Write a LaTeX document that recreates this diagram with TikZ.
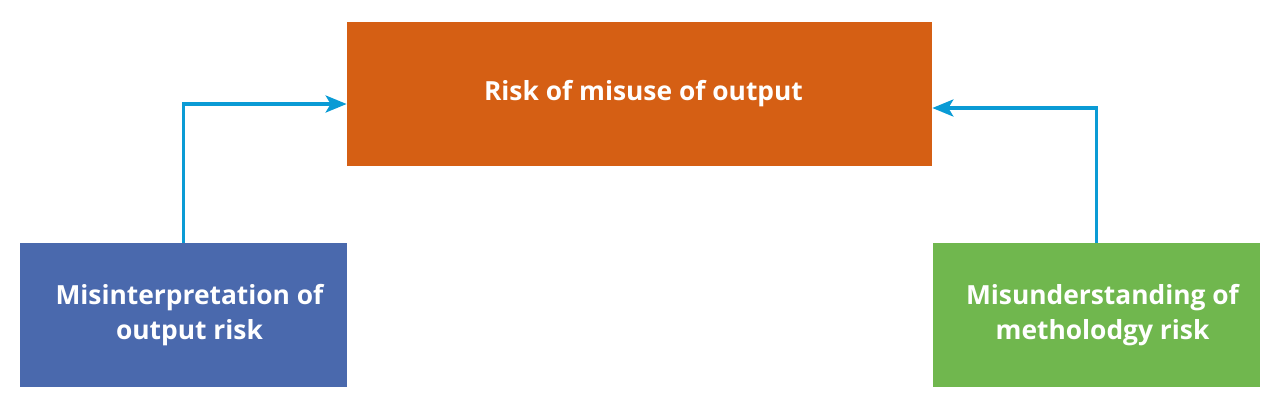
\documentclass[tikz,border=0pt]{standalone}
\usepackage{fontspec}
\setmainfont{Open Sans}
\usepackage{tikz}
\usetikzlibrary{arrows.meta}
\tikzset{>=stealth}
\usepackage{xcolor}
\definecolor{riskcol}{HTML}{D55F14}
\definecolor{interpcol}{HTML}{4A69AD}
\definecolor{methodcol}{HTML}{70B74E}
\definecolor{linkcol}{HTML}{0A9BD5}
\tikzstyle{box}=[minimum width=6.54cm,minimum height=2.88cm,inner sep=0,
                 text=white,align=center,font=\fontsize{15}{20}\selectfont\bfseries]
\tikzstyle{link}=[-{Stealth[length=0.42cm,width=0.34cm,inset=0.1cm]},line width=0.07cm,linkcol]

\begin{document}
\begin{tikzpicture}
  \useasboundingbox (0,0) rectangle (25.66,-8.10);
  
  % top
  \node[box,fill=riskcol,minimum width=11.70cm] (risk) at (12.79,-1.88)
       {\hspace*{0.16cm}Risk of misuse of output};
  
  % bottom
  \node[box,fill=interpcol] (interp) at (3.67,-6.30)
       {\hspace*{0.24cm}Misinterpretation of\\\hspace*{0.24cm}output risk};
  \node[box,fill=methodcol] (method) at (21.93,-6.30)
       {\hspace*{0.24cm}Misunderstanding of\\\hspace*{0.24cm}metholodgy risk};
  
  \draw[link] (interp.north) |- ([yshift=-0.2cm]risk.west);
  \draw[link] (method.north) |- ([yshift=-0.28cm]risk.east);

\end{tikzpicture}
\end{document}
